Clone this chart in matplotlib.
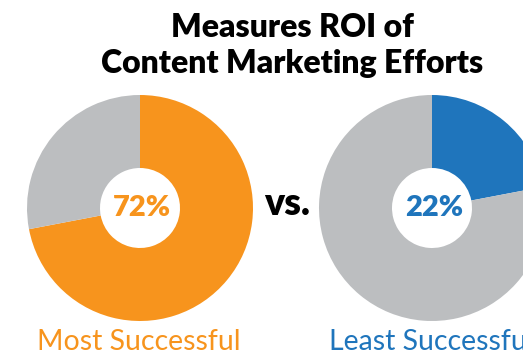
import matplotlib.pyplot as plt

title_lines = ["Measures ROI of", "Content Marketing Efforts"]
groups = ["Most Successful", "Least Successful"]
shares = [72, 22]
colors = ["#F7941D", "#1F75BC"]
rest_color = "#BCBEC0"

W, H = 523, 357


def main():
    fig = plt.figure(figsize=(W / 100, H / 100), dpi=100)
    ax = fig.add_axes([0, 0, 1, 1])

    centers = [(140, H - 208), (432, H - 208)]
    for (cx, cy), name, pct, col in zip(centers, groups, shares, colors):
        ax.pie([pct, 100 - pct], colors=[col, rest_color], startangle=90,
               counterclock=False, center=(cx, cy), radius=113,
               wedgeprops=dict(width=73, edgecolor="none"), frame=True)
        ax.text(cx + 2, H - 216, f"{pct}%", color=col, fontsize=21,
                fontweight="heavy", family="Lato", ha="center", va="baseline")
        ax.text(cx - 103, H - 350, name, color=col, fontsize=20.5,
                family="Lato", ha="left", va="baseline")

    ax.set_xlim(0, W)
    ax.set_ylim(0, H)
    ax.set_aspect("equal")
    ax.axis("off")

    ax.text(287, H - 215, "vs.", fontsize=27, fontweight="heavy", family="Lato",
            ha="center", va="baseline", color="black")
    for line, base in zip(title_lines, [37, 73]):
        ax.text(292, H - base, line, fontsize=23, fontweight="heavy",
                family="Lato", ha="center", va="baseline", color="black")

    fig.savefig("out.png", dpi=100)


main()
